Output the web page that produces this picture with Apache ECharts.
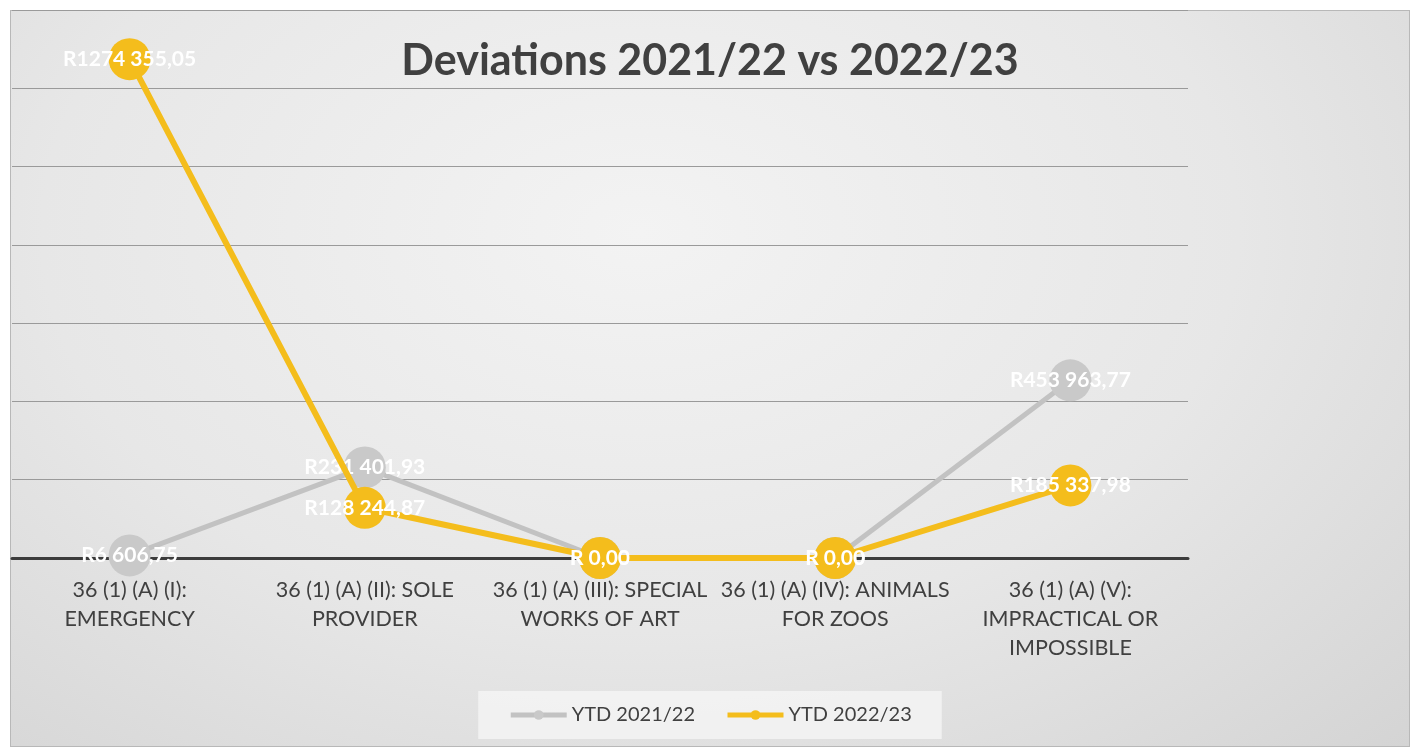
<!DOCTYPE html>
<html>
<head>
<meta charset="utf-8">
<script src="https://cdn.jsdelivr.net/npm/echarts@6/dist/echarts.min.js"></script>
<style>
  html, body { margin: 0; padding: 0; background: #ffffff; }
  #bg {
    position: absolute; left: 10px; top: 10px; width: 1400px; height: 737px;
    border: 1px solid #b8b8b8; box-sizing: border-box;
    background: radial-gradient(ellipse at 45% 30%, #f3f3f3 0%, #e7e7e7 55%, #d4d4d4 100%);
  }
  #chart { position: absolute; left: 0; top: 0; width: 1420px; height: 747px; }
</style>
</head>
<body>
<div id="bg"></div>
<div id="chart"></div>
<script>
  // categories (x axis)
  var categories = [
    '36 (1) (A) (I):\nEMERGENCY',
    '36 (1) (A) (II): SOLE\nPROVIDER',
    '36 (1) (A) (III): SPECIAL\nWORKS OF ART',
    '36 (1) (A) (IV): ANIMALS\nFOR ZOOS',
    '36 (1) (A) (V):\nIMPRACTICAL OR\nIMPOSSIBLE'
  ]
  // rand values per year
  var ytd2122 = [6606.75, 231401.93, 0, 0, 453963.77]
  var ytd2223 = [1274355.05, 128244.87, 0, 0, 185337.98]
  var seriesNames = ['YTD 2021/22', 'YTD 2022/23']

  var myChart = echarts.init(document.getElementById('chart'))

  // Excel-ish rand format: R6 606,75 / R1274 355,05 / R 0,00
  function randFmt(p) {
    var v = p.value
    if (v === 0) return 'R 0,00'
    var parts = v.toFixed(2).split('.')
    var s = parts[0]
    if (s.length > 3) s = s.slice(0, s.length - 3) + ' ' + s.slice(-3)
    return 'R' + s + ',' + parts[1]
  }

  var font = 'Lato, "Open Sans", sans-serif'

  var option = {
    backgroundColor: 'transparent',
    textStyle: { fontFamily: font },
    title: {
      text: 'Deviations 2021/22 vs 2022/23',
      left: 'center',
      top: 35,
      textStyle: { fontSize: 43, fontWeight: 'bold', color: '#404040', fontFamily: font }
    },
    legend: {
      bottom: 8,
      left: 'center',
      itemWidth: 56,
      itemHeight: 12,
      itemGap: 30,
      padding: [14, 30, 14, 30],
      backgroundColor: 'rgba(245,245,245,0.8)',
      lineStyle: { width: 5 },
      textStyle: { fontSize: 20, color: '#404040', fontFamily: font },
      data: seriesNames
    },
    grid: { left: 12, right: 232, top: 10, bottom: 189 },
    xAxis: {
      type: 'category',
      data: categories,
      boundaryGap: true,
      axisTick: { show: false },
      axisLine: { lineStyle: { color: '#3c3c3c', width: 3 } },
      axisLabel: {
        interval: 0,
        margin: 18,
        fontSize: 21.5,
        lineHeight: 29,
        color: '#404040',
        fontFamily: font
      }
    },
    yAxis: {
      type: 'value',
      min: 0,
      max: 1400000,
      interval: 200000,
      axisLabel: { show: false },
      axisLine: { show: false },
      axisTick: { show: false },
      splitLine: { lineStyle: { color: '#9a9a9a', width: 1.2 } }
    },
    series: [
      {
        name: seriesNames[0],
        type: 'line',
        data: ytd2122,
        symbol: 'circle',
        symbolSize: 42,
        z: 2,
        itemStyle: { color: '#c9c9c9' },
        lineStyle: { color: '#c2c2c2', width: 5 },
        label: {
          show: true,
          position: 'inside',
          formatter: randFmt,
          color: '#ffffff',
          fontSize: 21,
          fontWeight: 'bold',
          fontFamily: font
        }
      },
      {
        name: seriesNames[1],
        type: 'line',
        data: ytd2223,
        symbol: 'circle',
        symbolSize: 42,
        z: 3,
        itemStyle: { color: '#f4bd1c' },
        lineStyle: { color: '#f4bd1c', width: 6 },
        label: {
          show: true,
          position: 'inside',
          formatter: randFmt,
          color: '#ffffff',
          fontSize: 21,
          fontWeight: 'bold',
          fontFamily: font
        }
      }
    ]
  }
  myChart.setOption(option)
</script>
</body>
</html>
